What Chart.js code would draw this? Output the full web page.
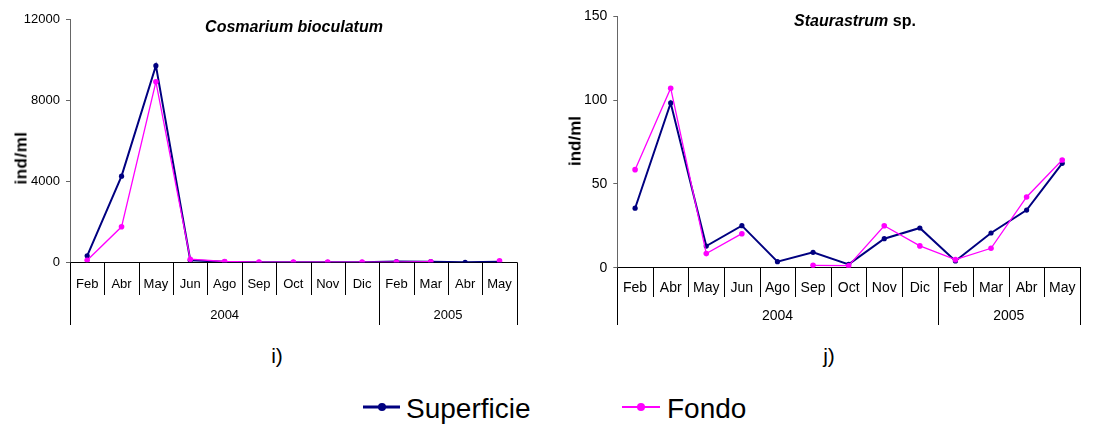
<!DOCTYPE html>
<html>
<head>
<meta charset="utf-8">
<script src="https://cdn.jsdelivr.net/npm/chart.js@4.4.1/dist/chart.umd.min.js"></script>
<style>
  html, body { margin: 0; padding: 0; background: #fff; }
  body { width: 1107px; height: 426px; position: relative; overflow: hidden;
         font-family: "Liberation Sans", Arial, sans-serif; color: #000; }
  canvas { position: absolute; top: 0; }
  .txt { position: absolute; transform: translate(-50%, -50%); line-height: 1; white-space: nowrap; }
  .ttl { font-weight: bold; font-size: 16px; }
  .ytl { font-weight: bold; font-size: 17px; transform: translate(-50%, -50%) rotate(-90deg); }
  .cap { font-size: 21px; }
  .leg { position: absolute; line-height: 1; font-size: 28px; transform: translateY(-50%); }
  .mk { position: absolute; }
  .mk .ln { position: absolute; left: 0; right: 0; top: 50%; transform: translateY(-50%); }
  .mk .dt { position: absolute; left: 50%; top: 50%; border-radius: 50%; transform: translate(-50%, -50%); }
</style>
</head>
<body>
<canvas id="cA" width="553" height="340" style="left:0px"></canvas>
<canvas id="cB" width="554" height="340" style="left:553px"></canvas>

<div class="txt ttl" style="left:294px; top:27px;"><i>Cosmarium bioculatum</i></div>
<div class="txt ttl" style="left:855px; top:21px;"><i>Staurastrum</i> sp.</div>
<div class="txt ytl" style="left:21px; top:158px; letter-spacing:0.5px;">ind/ml</div>
<div class="txt ytl" style="left:575px; top:141px;">ind/ml</div>
<div class="txt cap" style="left:277px; top:355px;">i)</div>
<div class="txt cap" style="left:829px; top:355px;">j)</div>

<div class="mk" style="left:363px; top:400px; width:37px; height:14px;">
  <div class="ln" style="height:3px; background:#000080;"></div>
  <div class="dt" style="width:8px; height:8px; background:#000080;"></div>
</div>
<div class="leg" style="left:406px; top:409px;">Superficie</div>
<div class="mk" style="left:622px; top:400px; width:38px; height:14px;">
  <div class="ln" style="height:2px; background:#ff00ff;"></div>
  <div class="dt" style="width:8px; height:8px; background:#ff00ff;"></div>
</div>
<div class="leg" style="left:667px; top:409px;">Fondo</div>

<script>
// Sampling months (two-level axis: month, then year)
const months = ['Feb', 'Abr', 'May', 'Jun', 'Ago', 'Sep', 'Oct', 'Nov', 'Dic', 'Feb', 'Mar', 'Abr', 'May'];
const years = ['2004', '2005'];
const monthsPerYear = [9, 4];

// Cosmarium bioculatum (ind/ml)
const cosmariumSuperficie = [320, 4250, 9700, 100, 30, 0, 0, 0, 0, 40, 30, 0, 30];
const cosmariumFondo = [100, 1750, 8900, 150, 40, 10, 10, 10, 10, 10, 30, null, 80];
const cosmariumTicks = [0, 4000, 8000, 12000];

// Staurastrum sp. (ind/ml)
const staurastrumSuperficie = [35.5, 98.3, 12.9, 25.1, 3.6, 9.2, 2, 17.3, 23.7, 4, 20.7, 34.4, 62.3];
const staurastrumFondo = [58.5, 107.1, 8.4, 20.3, null, 1.4, 1.2, 25, 13, 4.8, 11.6, 42.2, 64.3];
const staurastrumTicks = [0, 50, 100, 150];

const NAVY = '#000080';
const PINK = '#ff00ff';
const FONT = '"Liberation Sans", Arial, sans-serif';

// Draws month separators, month labels, year separators and year labels under the x axis
const groupAxis = {
  id: 'groupAxis',
  afterDraw(chart, args, o) {
    const x = chart.scales.x;
    const ctx = chart.ctx;
    const n = chart.data.labels.length;
    const top = chart.chartArea.bottom;
    const edge = i => {
      if (i <= 0) return x.left;
      if (i >= n) return x.right;
      return (x.getPixelForValue(i - 1) + x.getPixelForValue(i)) / 2;
    };
    const yearEdges = new Set([0]);
    let acc = 0;
    o.spans.forEach(s => { acc += s; yearEdges.add(acc); });

    ctx.save();
    ctx.strokeStyle = '#000';
    ctx.lineWidth = 1;
    for (let i = 0; i <= n; i++) {
      const px = Math.round(edge(i)) + 0.5;
      ctx.beginPath();
      ctx.moveTo(px, top);
      ctx.lineTo(px, yearEdges.has(i) ? o.groupBottom : o.tickBottom);
      ctx.stroke();
    }
    ctx.fillStyle = '#000';
    ctx.font = o.fontSize + 'px ' + FONT;
    ctx.textAlign = 'center';
    ctx.textBaseline = 'middle';
    chart.data.labels.forEach((lab, i) => ctx.fillText(lab, x.getPixelForValue(i), o.labelY));
    let start = 0;
    o.years.forEach((yr, k) => {
      const end = start + o.spans[k];
      ctx.fillText(yr, (edge(start) + edge(end)) / 2, o.yearY);
      start = end;
    });
    ctx.restore();
  }
};

function makeChart(id, sup, fon, ticks, geo) {
  const yMax = ticks[ticks.length - 1];
  return new Chart(document.getElementById(id), {
    type: 'line',
    data: {
      labels: months,
      datasets: [
        { label: 'Superficie', data: sup, borderColor: NAVY, backgroundColor: NAVY,
          borderWidth: 2, pointRadius: 2.6, pointBorderWidth: 0, pointBackgroundColor: NAVY,
          tension: 0, order: 1 },
        { label: 'Fondo', data: fon, borderColor: PINK, backgroundColor: PINK,
          borderWidth: 1.3, pointRadius: 2.8, pointBorderWidth: 0, pointBackgroundColor: PINK,
          tension: 0, order: 0 }
      ]
    },
    options: {
      responsive: false,
      animation: false,
      events: [],
      layout: { padding: { top: geo.top, right: geo.right, left: 0, bottom: 0 } },
      plugins: {
        legend: { display: false },
        tooltip: { enabled: false },
        groupAxis: {
          years: years, spans: monthsPerYear,
          labelY: geo.labelY, yearY: geo.yearY,
          tickBottom: geo.tickBottom, groupBottom: geo.groupBottom,
          fontSize: geo.fontSize
        }
      },
      scales: {
        x: {
          type: 'category',
          offset: true,
          grid: { display: true, drawOnChartArea: false, drawTicks: false },
          border: { display: true, color: '#000', width: 1 },
          ticks: { display: false },
          afterFit: s => { s.height = 340 - geo.bottom; }
        },
        y: {
          min: 0, max: yMax,
          afterBuildTicks: s => { s.ticks = ticks.map(v => ({ value: v })); },
          ticks: { color: '#000', font: { family: FONT, size: geo.fontSize }, padding: geo.yPad,
                   callback: v => String(v) },
          grid: { drawOnChartArea: false, drawTicks: true, tickLength: 4, color: '#666' },
          border: { display: true, color: '#666', width: 1 },
          afterFit: s => { s.width = geo.left; }
        }
      }
    },
    plugins: [groupAxis]
  });
}

makeChart('cA', cosmariumSuperficie, cosmariumFondo, cosmariumTicks,
  { left: 70, right: 36.3, top: 19, bottom: 262.3, labelY: 284, yearY: 315,
    tickBottom: 295, groupBottom: 325, fontSize: 13, yPad: 6 });

makeChart('cB', staurastrumSuperficie, staurastrumFondo, staurastrumTicks,
  { left: 64.3, right: 27, top: 16.3, bottom: 267.7, labelY: 288, yearY: 316,
    tickBottom: 297, groupBottom: 325, fontSize: 14, yPad: 6 });
</script>
</body>
</html>
